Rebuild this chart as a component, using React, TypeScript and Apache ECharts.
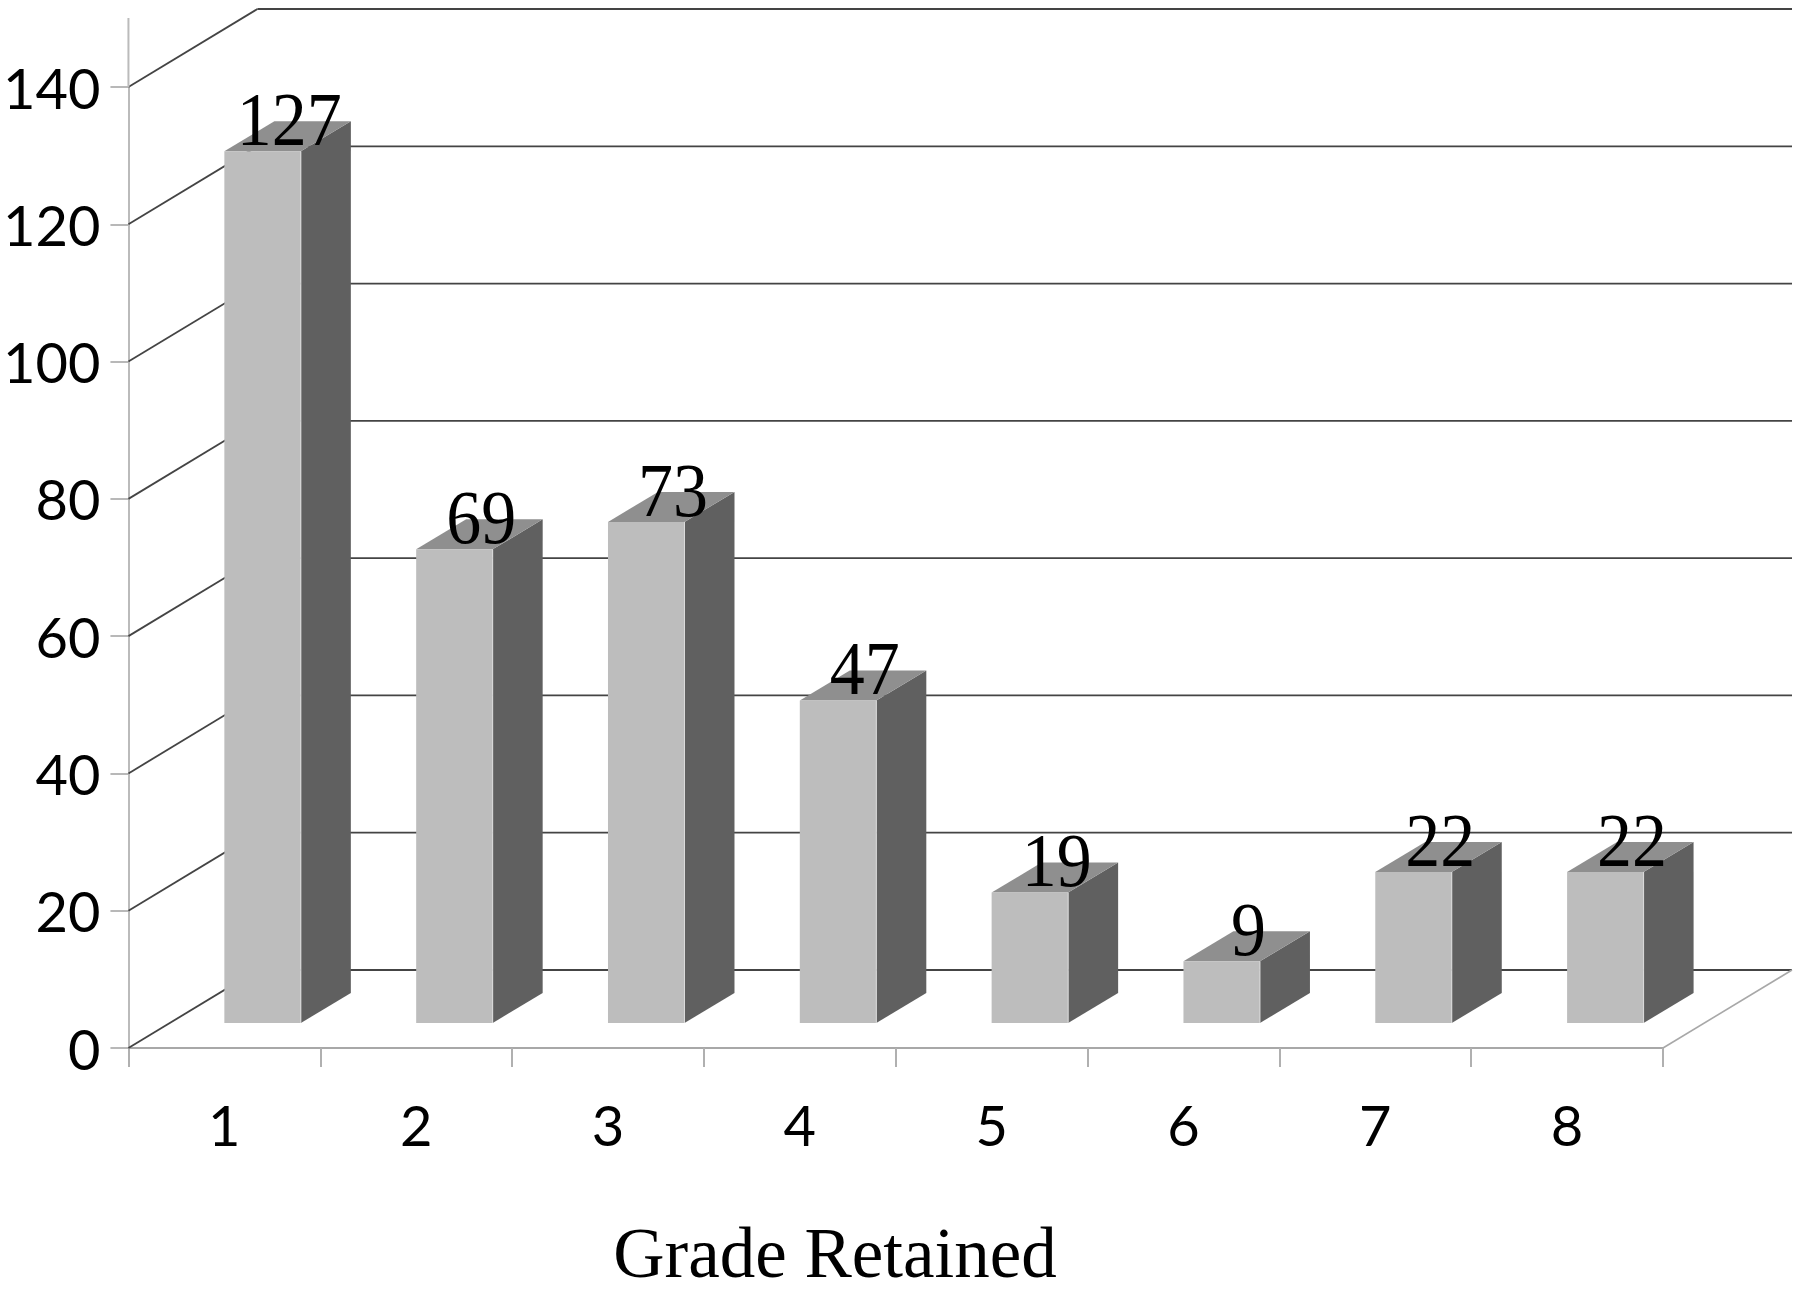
import React, { useEffect, useRef } from "react";
import * as echarts from "echarts";

const categories = ["1", "2", "3", "4", "5", "6", "7", "8"];
const counts = [127, 69, 73, 47, 19, 9, 22, 22];
const yTicks = [0, 20, 40, 60, 80, 100, 120, 140];
const xTitle = "Grade Retained";

const WALL_DX = 129;
const WALL_DY = -78;
const BAR_LIFT = 25;
const BAR_W = 76.5;
const SIDE_DX = 50;
const SIDE_DY = -30;

const renderWall = (params: any, api: any) => {
  const v = api.value(1);
  const cs = params.coordSys;
  const y = api.coord([0, v])[1];
  const x0 = cs.x;
  const x1 = cs.x + cs.width;
  const dark = { stroke: "#444444", lineWidth: 1.8 };
  const children: any[] = [
    { type: "line", shape: { x1: x0, y1: y, x2: x0 + WALL_DX, y2: y + WALL_DY }, style: dark },
  ];
  children.push({
    type: "line",
    shape: { x1: x0 + WALL_DX, y1: y + WALL_DY, x2: x1 + WALL_DX, y2: y + WALL_DY },
    style: dark,
  });
  if (v === 0) {
    children.push({
      type: "line",
      shape: { x1, y1: y, x2: x1 + WALL_DX, y2: y + WALL_DY },
      style: { stroke: "#a8a8a8", lineWidth: 1.6 },
    });
  }
  if (v === yTicks[yTicks.length - 1]) {
    children.push({
      type: "line",
      shape: { x1: x0, y1: y, x2: x0, y2: y - 69 },
      style: { stroke: "#bbbbbb", lineWidth: 2 },
    });
  }
  return { type: "group", children };
};

const renderBar = (_params: any, api: any) => {
  const i = api.value(0);
  const v = api.value(1);
  const [cx, yTop0] = api.coord([i, v]);
  const yBase0 = api.coord([i, 0])[1];
  const l = cx;
  const r = l + BAR_W;
  const t = yTop0 - BAR_LIFT;
  const b = yBase0 - BAR_LIFT;
  return {
    type: "group",
    children: [
      {
        type: "polygon",
        shape: { points: [[r, t], [r + SIDE_DX, t + SIDE_DY], [r + SIDE_DX, b + SIDE_DY], [r, b]] },
        style: { fill: "#606060" },
      },
      {
        type: "polygon",
        shape: { points: [[l, t], [l + SIDE_DX, t + SIDE_DY], [r + SIDE_DX, t + SIDE_DY], [r, t]] },
        style: { fill: "#8f8f8f" },
      },
      { type: "rect", shape: { x: l, y: t, width: BAR_W, height: b - t }, style: { fill: "#bdbdbd" } },
      { type: "line", shape: { x1: r, y1: t, x2: r, y2: b }, style: { stroke: "#dcdcdc", lineWidth: 1 } },
      {
        type: "text",
        x: cx + 65,
        y: t + 6,
        scaleY: 1.08,
        style: {
          text: String(v),
          font: '70px "Liberation Serif"',
          fill: "#000000",
          align: "center",
          verticalAlign: "bottom",
        },
        z2: 10,
      },
    ],
  };
};

export default function App() {
  const ref = useRef<HTMLDivElement>(null);
  useEffect(() => {
    document.body.style.margin = "0";
    const chart = echarts.init(ref.current!, null, { renderer: "svg" });
    chart.setOption({
      animation: false,
      backgroundColor: "#ffffff",
      grid: { left: 128, right: 137, top: 87, bottom: 246, containLabel: false },
      xAxis: {
        type: "category",
        data: categories,
        boundaryGap: true,
        axisLine: { show: true, lineStyle: { color: "#a8a8a8", width: 2 } },
        axisTick: { show: true, length: 19, alignWithLabel: false, lineStyle: { color: "#b0b0b0", width: 2 } },
        axisLabel: { margin: 48, color: "#000000", fontFamily: "Lato", fontSize: 56 },
        splitLine: { show: false },
      },
      yAxis: {
        type: "value",
        min: 0,
        max: 140,
        interval: 20,
        axisLine: { show: true, lineStyle: { color: "#bbbbbb", width: 2 } },
        axisTick: { show: true, length: 18, lineStyle: { color: "#b8b8b8", width: 2 } },
        axisLabel: { margin: 28, color: "#000000", fontFamily: "Lato", fontSize: 56 },
        splitLine: { show: false },
      },
      graphic: [
        {
          type: "text",
          x: 835,
          y: 1253,
          style: {
            text: xTitle,
            font: '71px "Liberation Serif"',
            fill: "#000000",
            align: "center",
            verticalAlign: "middle",
          },
        },
      ],
      series: [
        {
          type: "custom",
          renderItem: renderWall,
          data: yTicks.map((v) => [0, v]),
          encode: { x: 0, y: 1 },
          z: 1,
          silent: true,
        },
        {
          type: "custom",
          renderItem: renderBar,
          data: counts.map((v, i) => [i, v]),
          encode: { x: 0, y: 1 },
          z: 2,
          silent: true,
        },
      ],
    });
    return () => chart.dispose();
  }, []);
  return <div ref={ref} style={{ width: 1800, height: 1294 }} />;
}
